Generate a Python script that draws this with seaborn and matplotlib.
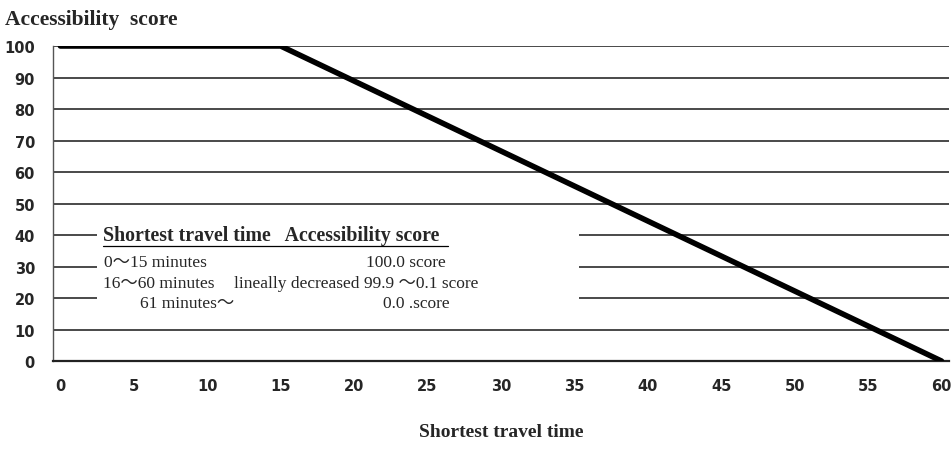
import numpy as np
import pandas as pd
import matplotlib
matplotlib.use("Agg")
import matplotlib.pyplot as plt
import seaborn as sns
from matplotlib.patches import Rectangle

# accessibility score by shortest travel time
travel_time = [0, 15, 60]
score = [100, 100, 0]
x_ticks = list(range(0, 65, 5))
y_ticks = list(range(0, 110, 10))

# inset table text
table_header = "Shortest travel time   Accessibility score"
table_left = ["0～15 minutes", "16～60 minutes", "61 minutes～"]
table_mid = ["", "lineally decreased", ""]
table_right = ["100.0 score", "99.9 ～0.1 score", "0.0 .score"]

sns.set_style("white")
serif = ["Liberation Serif", "Noto Sans CJK JP", "DejaVu Serif"]
sans = ["DejaVu Sans"]

df = pd.DataFrame({"time": travel_time, "score": score})

fig = plt.figure(figsize=(9.52, 4.52), dpi=100)
ax = fig.add_axes([0.0557, 0.199, 0.941, 0.697])

for yv in y_ticks[1:]:
    ax.axhline(yv, color="#3a3a3a", lw=1.3, zorder=1)

sns.lineplot(data=df, x="time", y="score", color="black", lw=4, ax=ax, zorder=5)

ax.set_xlim(-0.5, 60.5)
ax.set_ylim(0, 100)
ax.set_xticks(x_ticks)
ax.set_yticks(y_ticks)
ax.set_xticklabels([str(t) for t in x_ticks], fontfamily=sans, fontweight="bold", fontsize=10.5)
ax.set_yticklabels([str(t) for t in y_ticks], fontfamily=sans, fontweight="bold", fontsize=10.5)
ax.tick_params(axis="x", length=0, pad=12)
ax.tick_params(axis="y", length=0, pad=13)

for s in ["top", "right"]:
    ax.spines[s].set_visible(False)
ax.spines["left"].set_color("#555555")
ax.spines["left"].set_linewidth(1.0)
ax.spines["bottom"].set_color("#222222")
ax.spines["bottom"].set_linewidth(1.6)

ax.set_xlabel("Shortest travel time", fontfamily=serif, fontweight="bold", fontsize=14, labelpad=22)
ax.set_ylabel("")
fig.text(0.005, 0.955, "Accessibility  score", fontfamily=serif, fontweight="bold", fontsize=15.5,
         ha="left", va="center")

# white box with the scoring table
ax.add_patch(Rectangle((2.5, 13), 32.8, 32, facecolor="white", edgecolor="none", zorder=3))
ax.text(2.9, 40, table_header, fontfamily=serif, fontweight="bold", fontsize=14.3,
        ha="left", va="center", zorder=4)
ax.plot([2.9, 26.4], [36.4, 36.4], color="black", lw=0.9, zorder=4)

rows_y = [31.4, 24.8, 18.4]
left_x = [3.0, 2.9, 5.4]
right_x = [20.8, 20.7, 22.0]
for i in range(3):
    ax.text(left_x[i], rows_y[i], table_left[i], fontfamily=serif, fontsize=12.5,
            ha="left", va="center", zorder=4)
    if table_mid[i]:
        ax.text(11.8, rows_y[i], table_mid[i], fontfamily=serif, fontsize=12.5,
                ha="left", va="center", zorder=4)
    ax.text(right_x[i], rows_y[i], table_right[i], fontfamily=serif, fontsize=12.5,
            ha="left", va="center", zorder=4)

fig.savefig("out.png", dpi=100)
